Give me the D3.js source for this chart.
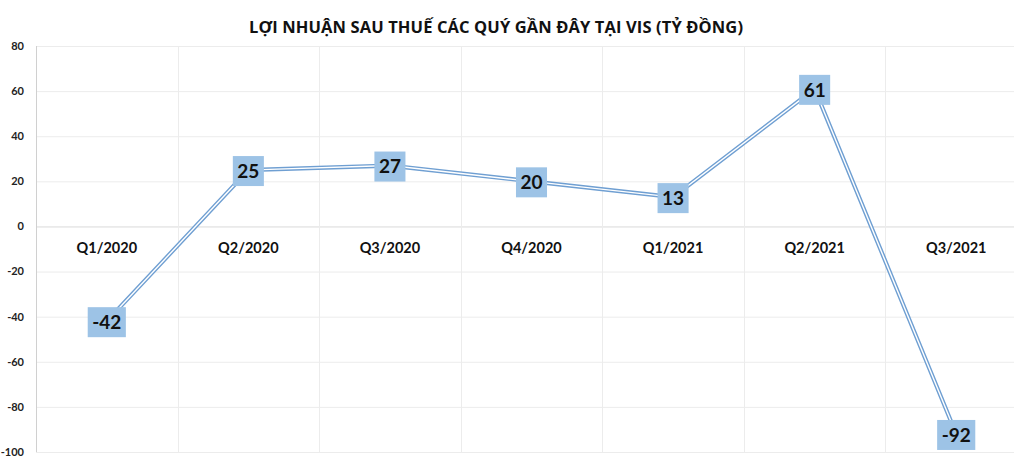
<!DOCTYPE html>
<html><head><meta charset="utf-8">
<script src="https://cdn.jsdelivr.net/npm/d3@7"></script>
<style>
html,body{margin:0;padding:0;background:#fff;}
svg{display:block;}
</style></head>
<body><svg id="c" width="1014" height="462"></svg>
<script>
const title = "LỢI NHUẬN SAU THUẾ CÁC QUÝ GẦN ĐÂY TẠI VIS (TỶ ĐỒNG)";
const categories = ["Q1/2020","Q2/2020","Q3/2020","Q4/2020","Q1/2021","Q2/2021","Q3/2021"];
const values = [-42, 25, 27, 20, 13, 61, -92];
const yTicks = [80, 60, 40, 20, 0, -20, -40, -60, -80, -100];

const svg = d3.select("#c");
const font = "Lato, 'Open Sans', sans-serif";
const m = {left: 36, right: 1027, top: 46, bottom: 452};

const x = d3.scaleBand().domain(categories).range([m.left, m.right]).padding(0);
const y = d3.scaleLinear().domain([-100, 80]).range([m.bottom, m.top]);

// horizontal gridlines
svg.append("g").selectAll("line").data(yTicks).join("line")
  .attr("x1", m.left).attr("x2", m.right)
  .attr("y1", d => y(d) + 0.5).attr("y2", d => y(d) + 0.5)
  .attr("stroke", d => d === 0 ? "#d9d9d9" : "#ececec").attr("stroke-width", 1);

// vertical gridlines
svg.append("g").selectAll("line").data(categories.slice(1)).join("line")
  .attr("x1", d => Math.round(x(d)) + 0.5).attr("x2", d => Math.round(x(d)) + 0.5)
  .attr("y1", m.top).attr("y2", m.bottom)
  .attr("stroke", "#ececec");

// y axis line
svg.append("line").attr("x1", m.left + 0.5).attr("x2", m.left + 0.5)
  .attr("y1", m.top).attr("y2", m.bottom).attr("stroke", "#d0d0d0");

// y tick labels
svg.append("g").selectAll("text").data(yTicks).join("text")
  .attr("x", 24).attr("y", d => y(d)).attr("dy", "0.35em")
  .attr("text-anchor", "end")
  .style("font-family", font).style("font-weight", "bold").style("font-size", "11px")
  .attr("fill", "#222").text(d => d);

// category labels
svg.append("g").selectAll("text").data(categories).join("text")
  .attr("x", d => x(d) + x.bandwidth() / 2).attr("y", y(0) + 21).attr("dy", "0.35em")
  .attr("text-anchor", "middle")
  .style("font-family", font).style("font-weight", "bold").style("font-size", "14.5px")
  .attr("fill", "#111").text(d => d);

// title
svg.append("text").attr("x", 496).attr("y", 33).attr("text-anchor", "middle")
  .style("font-family", "'Open Sans', sans-serif").style("font-weight", "bold")
  .style("font-size", "16.5px")
  .attr("textLength", 494).attr("lengthAdjust", "spacing")
  .attr("fill", "#111").text(title);

// line (double/compound)
const pts = categories.map((c, i) => [x(c) + x.bandwidth() / 2, y(values[i])]);
const line = d3.line();
svg.append("path").attr("d", line(pts)).attr("fill", "none")
  .attr("stroke", "#6f9fd2").attr("stroke-width", 4.2);
svg.append("path").attr("d", line(pts)).attr("fill", "none")
  .attr("stroke", "#ffffff").attr("stroke-width", 1.4);

// data labels
const lg = svg.append("g").selectAll("g").data(values).join("g")
  .attr("transform", (d, i) => `translate(${pts[i][0]},${pts[i][1] + 1})`);
lg.each(function(d) {
  const g = d3.select(this);
  const rect = g.append("rect").attr("fill", "#9dc3e6");
  const t = g.append("text").attr("text-anchor", "middle").attr("dy", "0.36em")
    .style("font-family", font).style("font-weight", "bold").style("font-size", "19px")
    .attr("fill", "#111").text(d);
  const w = t.node().getComputedTextLength() + 9;
  rect.attr("x", -w / 2).attr("y", -15).attr("width", w).attr("height", 30);
});
</script></body></html>
